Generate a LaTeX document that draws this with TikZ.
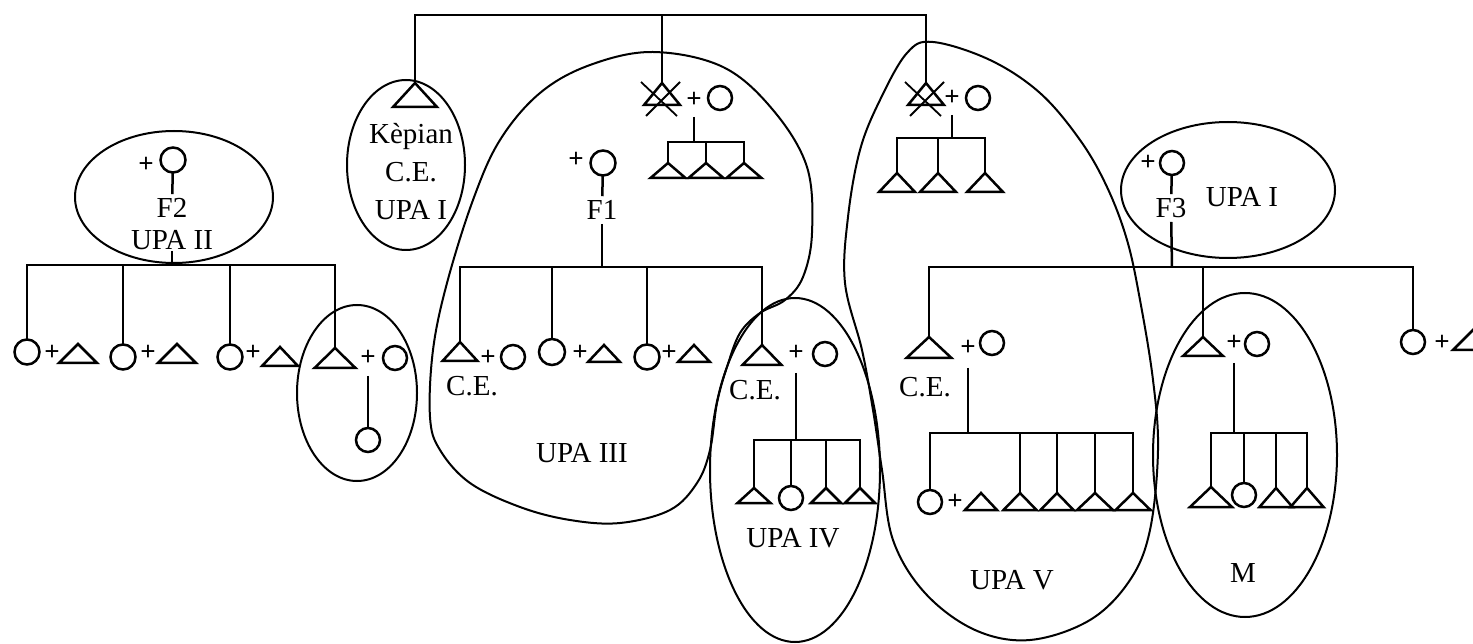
\documentclass[tikz,border=0pt]{standalone}
\usepackage{fontspec}
\setmainfont{Liberation Serif}
\usetikzlibrary{calc}
\tikzset{
  kinline/.style={line width=2.5pt, line join=miter},
  groupline/.style={line width=2pt},
  male/.style={rectangle, inner sep=0pt, outer sep=0pt, minimum width=36pt, minimum height=19pt},
  fem/.style={circle, draw, line width=2.5pt, inner sep=0pt, outer sep=0pt, minimum size=25pt},
  wed/.style={inner sep=0pt, font=\fontsize{27}{27}\selectfont\bfseries},
  lbl/.style={inner sep=1pt, align=center, font=\fontsize{29}{38}\selectfont},
  famlbl/.style={lbl, inner sep=4pt}
}

\begin{document}
\begin{tikzpicture}[x=1pt, y=-1pt]
  \useasboundingbox (0,0) rectangle (1473,644);
  \fill[white] (0,0) rectangle (1473,644);
  \clip (0,0) rectangle (1473,644);

  % first generation
  \node[male, minimum width=44pt, minimum height=24pt] (kep) at (415,95) {};
  \node[male, minimum height=22pt] (dA) at (662,94) {};
  \node[wed] (pA) at (694,100) {+};
  \node[fem, minimum size=24pt] (wA) at (720,98) {};
  \node[male, minimum height=22pt] (dB) at (926,94) {};
  \node[wed] (pB) at (952,98) {+};
  \node[fem, minimum size=24pt] (wB) at (978,98) {};
  \coordinate (barTop) at (662,15);
  \draw[kinline] (kep.north) |- (barTop) -| (dB.north);
  \draw[kinline] (barTop) -- (dA.north);

  \node[lbl] (keplbl) at (411,172) {Kèpian\\C.E.\\UPA I};

  % children of the two dead men
  \coordinate (barA) at (694,142);
  \node[male, minimum width=35pt, minimum height=15pt] (a1) at (668,170.5) {};
  \node[male, minimum width=35pt, minimum height=15pt] (a2) at (706,170.5) {};
  \node[male, minimum width=35pt, minimum height=15pt] (a3) at (744,170.5) {};
  \draw[kinline, shorten <=9pt] (pA) -- (barA);
  \draw[kinline] (a1.north) |- (barA) -| (a3.north);
  \draw[kinline] (a2.north) -- (a2.north |- barA);

  \coordinate (barB) at (952,138);
  \node[male] (b1) at (897,182.5) {};
  \node[male] (b2) at (938,182.5) {};
  \node[male] (b3) at (985,182.5) {};
  \draw[kinline, shorten <=9pt] (pB) -- (barB);
  \draw[kinline] (b1.north) |- (barB) -| (b3.north);
  \draw[kinline] (b2.north) -- (b2.north |- barB);

  % F2
  \node[wed] (p2) at (146,165) {+};
  \node[fem] (f2) at (173,160) {};
  \node[famlbl] (f2lbl) at (172,208) {F2};
  \node[lbl] (u2lbl) at (172,240) {UPA II};
  \coordinate (barF2) at (172,265);
  \draw[kinline] (f2) -- (f2lbl);
  \draw[kinline] (u2lbl) -- (barF2);

  \node[fem] (c21) at (27,352) {};
  \node[wed] (p21) at (52,353) {+};
  \node[male, minimum width=38pt] (t21) at (78,353.5) {};
  \node[fem] (c22) at (123,357) {};
  \node[wed] (p22) at (148,353) {+};
  \node[male, minimum width=38pt] (t22) at (177,353.5) {};
  \node[fem] (c23) at (230,357) {};
  \node[wed] (p23) at (253,353) {+};
  \node[male] (t23) at (280,356.5) {};
  \node[male, minimum width=41pt, minimum height=20pt] (t24) at (335,358) {};
  \node[wed] (p24) at (368,358) {+};
  \node[fem, minimum size=24pt] (c24) at (395,358) {};
  \node[fem, minimum size=24pt] (c25) at (368,440) {};
  \draw[kinline] (c21.north) |- (barF2) -| (t24.north);
  \foreach \n in {c22,c23}
    \draw[kinline] (\n.north) -- (\n.north |- barF2);
  \draw[kinline, shorten <=10pt] (p24) -- (c25);

  % F1
  \node[wed] (p1) at (576,160) {+};
  \node[fem] (f1) at (603,163) {};
  \node[famlbl] (f1lbl) at (602,210) {F1};
  \coordinate (barF1) at (602,267);
  \draw[kinline] (f1) -- (f1lbl);
  \draw[kinline] (f1lbl) -- (barF1);

  \node[male, minimum width=35pt] (t31) at (460,351.5) {};
  \node[wed] (p31) at (488,358) {+};
  \node[fem, minimum size=24pt] (c31) at (513,357) {};
  \node[lbl] (ce31) at (472,386) {C.E.};
  \node[fem, minimum size=26pt] (c32) at (552,352) {};
  \node[wed] (p32) at (580,353) {+};
  \node[male, minimum width=32pt, minimum height=17pt] (t32) at (604,353.5) {};
  \node[fem] (c33) at (647,357) {};
  \node[wed] (p33) at (669,353) {+};
  \node[male, minimum width=32pt, minimum height=17pt] (t33) at (694,353.5) {};
  \node[male, minimum width=39pt, minimum height=20pt] (t34) at (762,355) {};
  \node[wed] (p34) at (796,353) {+};
  \node[fem, minimum size=24pt] (c34) at (825,354) {};
  \node[lbl] (ce34) at (755,390) {C.E.};
  \draw[kinline] (t31.north) |- (barF1) -| (t34.north);
  \foreach \n in {c32,c33}
    \draw[kinline] (\n.north) -- (\n.north |- barF1);
  \node[lbl] (u3lbl) at (582,453) {UPA III};

  % UPA IV
  \coordinate (barIV) at (796,440);
  \node[male, minimum width=33pt, minimum height=15pt] (t41) at (754,495.5) {};
  \node[fem, minimum size=24pt] (c41) at (791,498) {};
  \node[male, minimum width=30pt, minimum height=15pt] (t42) at (826,495.5) {};
  \node[male, minimum width=30pt, minimum height=15pt] (t43) at (860,495.5) {};
  \draw[kinline, shorten <=12pt] (p34) -- (barIV);
  \draw[kinline] (t41.north) |- (barIV) -| (t43.north);
  \foreach \n in {c41,t42}
    \draw[kinline] (\n.north) -- (\n.north |- barIV);
  \node[lbl] (u4lbl) at (793,538) {UPA IV};

  % F3
  \node[wed] (p3) at (1148,163) {+};
  \node[fem, minimum size=24pt] (f3) at (1172,163) {};
  \node[famlbl] (f3lbl) at (1171,208) {F3};
  \node[lbl] (u1lbl) at (1242,197) {UPA I};
  \coordinate (barF3) at (1172,267);
  \draw[kinline] (f3) -- (f3lbl);
  \draw[kinline] (f3lbl) -- (barF3);

  \node[male, minimum width=45pt, minimum height=21pt] (t51) at (929,347.5) {};
  \node[wed] (p51) at (968,348) {+};
  \node[fem, minimum size=24pt] (c51) at (992,343) {};
  \node[lbl] (ce51) at (925,387) {C.E.};
  \node[male, minimum width=40pt] (t61) at (1203,346.5) {};
  \node[wed] (p61) at (1234,343) {+};
  \node[fem, minimum size=24pt] (c61) at (1257,344) {};
  \node[fem, minimum size=24pt] (c71) at (1413,342) {};
  \node[wed] (p71) at (1442,343) {+};
  \node[male, minimum width=40pt, minimum height=20pt] (t71) at (1473,340) {};
  \draw[kinline] (t51.north) |- (barF3) -| (c71.north);
  \draw[kinline] (t61.north) -- (t61.north |- barF3);

  % UPA V
  \coordinate (barV) at (968,433);
  \node[fem, minimum size=24pt] (c52) at (930,502) {};
  \node[wed] (p52) at (955,502) {+};
  \node[male, minimum width=32pt, minimum height=17pt] (t52) at (981,501.5) {};
  \node[male, minimum width=33pt, minimum height=17pt] (t53) at (1020,501.5) {};
  \node[male, minimum width=33pt, minimum height=17pt] (t54) at (1057,501.5) {};
  \node[male, minimum width=36pt, minimum height=17pt] (t55) at (1095,501.5) {};
  \node[male, minimum width=35pt, minimum height=17pt] (t56) at (1133,501.5) {};
  \draw[kinline, shorten <=12pt] (p51) -- (barV);
  \draw[kinline] (c52.north) |- (barV) -| (t56.north);
  \foreach \n in {t53,t54,t55}
    \draw[kinline] (\n.north) -- (\n.north |- barV);
  \node[lbl] (u5lbl) at (1012,580) {UPA V};

  % M
  \coordinate (barM) at (1234,433);
  \node[male, minimum width=42pt, minimum height=20pt] (t62) at (1211,497) {};
  \node[fem, minimum size=24pt] (c62) at (1244,495) {};
  \node[male, minimum width=33pt] (t63) at (1276,497.5) {};
  \node[male, minimum width=33pt] (t64) at (1307,497.5) {};
  \draw[kinline, shorten <=12pt] (p61) -- (barM);
  \draw[kinline] (t62.north) |- (barM) -| (t64.north);
  \foreach \n in {c62,t63}
    \draw[kinline] (\n.north) -- (\n.north |- barM);
  \node[lbl] (mlbl) at (1243,573) {M};

  % triangles for the men, crosses for the dead
  \foreach \n in {kep,dA,dB,a1,a2,a3,b1,b2,b3,t21,t22,t23,t24,t31,t32,t33,t34,
                  t41,t42,t43,t51,t52,t53,t54,t55,t56,t61,t62,t63,t64,t71}
    \draw[kinline] (\n.south west) -- (\n.north) -- (\n.south east) -- cycle;
  \foreach \n in {dA,dB}
    \draw[kinline, line width=1.8pt] (\n.center) +(-21,-12) -- +(15,22) +(18,-12) -- +(-16,22);

  % the groups
  \draw[groupline] (174,197) ellipse (99 and 66);
  \draw[groupline] (357,393) ellipse (60 and 88);
  \draw[groupline] (406,165) ellipse (59 and 85);
  \draw[groupline] (795,470) ellipse (85 and 172);
  \draw[groupline] (1245,455) ellipse (92 and 162);
  \draw[groupline] (1228,190) ellipse (107 and 68);
  \draw[groupline] plot[smooth cycle, tension=0.6] coordinates {
    (653,52) (723,67) (773,110) (807,167) (812,233) (803,277) (785,300)
    (760,313) (740,333) (727,367) (717,403) (710,450) (697,483) (670,510)
    (620,523) (570,520) (520,507) (470,483) (440,450) (430,417) (433,350)
    (447,283) (473,200) (500,140) (540,93) (590,65)};
  \draw[groupline] plot[smooth cycle, tension=0.6] coordinates {
    (933,42) (990,60) (1040,93) (1080,140) (1107,187) (1127,240) (1140,300)
    (1153,380) (1158,450) (1150,530) (1130,580) (1090,620) (1030,640)
    (975,630) (925,593) (893,540) (882,470) (873,410) (862,350) (845,283)
    (848,217) (860,150) (880,100) (907,53)};
\end{tikzpicture}
\end{document}
